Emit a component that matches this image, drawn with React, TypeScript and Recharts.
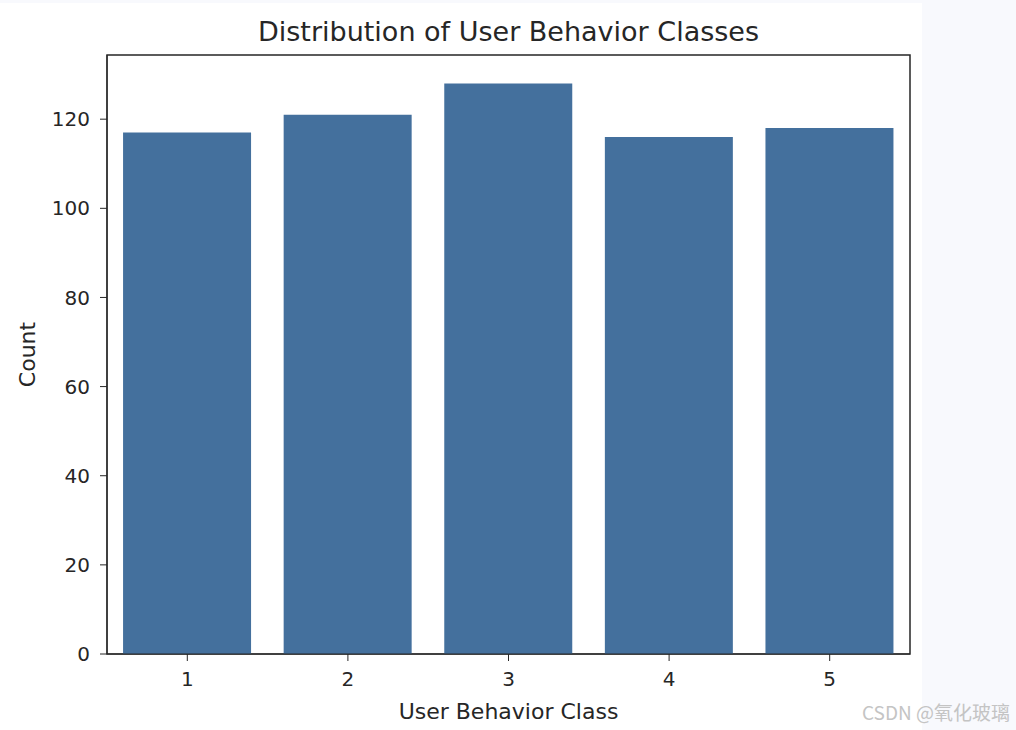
import React from 'react';
import { BarChart, Bar, XAxis, YAxis, Label, ReferenceArea } from 'recharts';

// class labels and counts
const classes = ['1', '2', '3', '4', '5'];
const counts = [117, 121, 128, 116, 118];
const yTicks = [0, 20, 40, 60, 80, 100, 120];
const yMax = 134.4;

const data = classes.map((cls, i) => ({ cls, count: counts[i] }));

const FONT = '"DejaVu Sans", sans-serif';
const INK = '#262626';

const YLabel = ({ viewBox }: any) => {
  const x = viewBox.x - 30;
  const y = viewBox.y + viewBox.height / 2;
  return (
    <text
      x={x}
      y={y}
      transform={`rotate(-90, ${x}, ${y})`}
      textAnchor="middle"
      dominantBaseline="central"
      fontSize={22}
      fontFamily={FONT}
      fill={INK}
    >
      Count
    </text>
  );
};

const XLabel = ({ viewBox }: any) => (
  <text
    x={viewBox.x + viewBox.width / 2}
    y={711}
    textAnchor="middle"
    dominantBaseline="central"
    fontSize={22}
    fontFamily={FONT}
    fill={INK}
  >
    User Behavior Class
  </text>
);

export default function App() {
  return (
    <div
      style={{
        position: 'absolute',
        left: 0,
        top: 0,
        width: 1016,
        height: 730,
        background: '#f8f9fd',
        fontFamily: FONT,
      }}
    >
      <div style={{ position: 'absolute', left: 0, top: 3, width: 922, height: 727, background: '#fff' }} />
      <div
        style={{
          position: 'absolute',
          left: 107,
          width: 803,
          top: 16,
          textAlign: 'center',
          fontSize: 27,
          lineHeight: '32px',
          color: INK,
        }}
      >
        Distribution of User Behavior Classes
      </div>
      <div style={{ position: 'absolute', left: 0, top: 0 }}>
        <BarChart
          width={1016}
          height={730}
          data={data}
          margin={{ top: 55, right: 106, left: 57, bottom: 46 }}
          barCategoryGap="10%"
        >
          <XAxis
            dataKey="cls"
            height={30}
            stroke={INK}
            tickSize={7}
            tickMargin={11}
            tick={{ fill: INK, fontSize: 20, fontFamily: FONT }}
          >
            <Label content={<XLabel />} />
          </XAxis>
          <YAxis
            width={50}
            domain={[0, yMax]}
            ticks={yTicks}
            stroke={INK}
            tickSize={7}
            tickMargin={10}
            tick={{ fill: INK, fontSize: 20, fontFamily: FONT }}
          >
            <Label content={<YLabel />} />
          </YAxis>
          <Bar dataKey="count" fill="#44709d" isAnimationActive={false} />
          <ReferenceArea y1={0} y2={yMax} fill="none" stroke={INK} strokeWidth={1.5} ifOverflow="visible" />
        </BarChart>
      </div>
      <div
        style={{
          position: 'absolute',
          left: 862,
          top: 698,
          fontSize: 19,
          color: '#c4c4c4',
          fontFamily: '"Noto Sans CJK SC", sans-serif',
          whiteSpace: 'nowrap',
        }}
      >
        CSDN @氧化玻璃
      </div>
    </div>
  );
}
